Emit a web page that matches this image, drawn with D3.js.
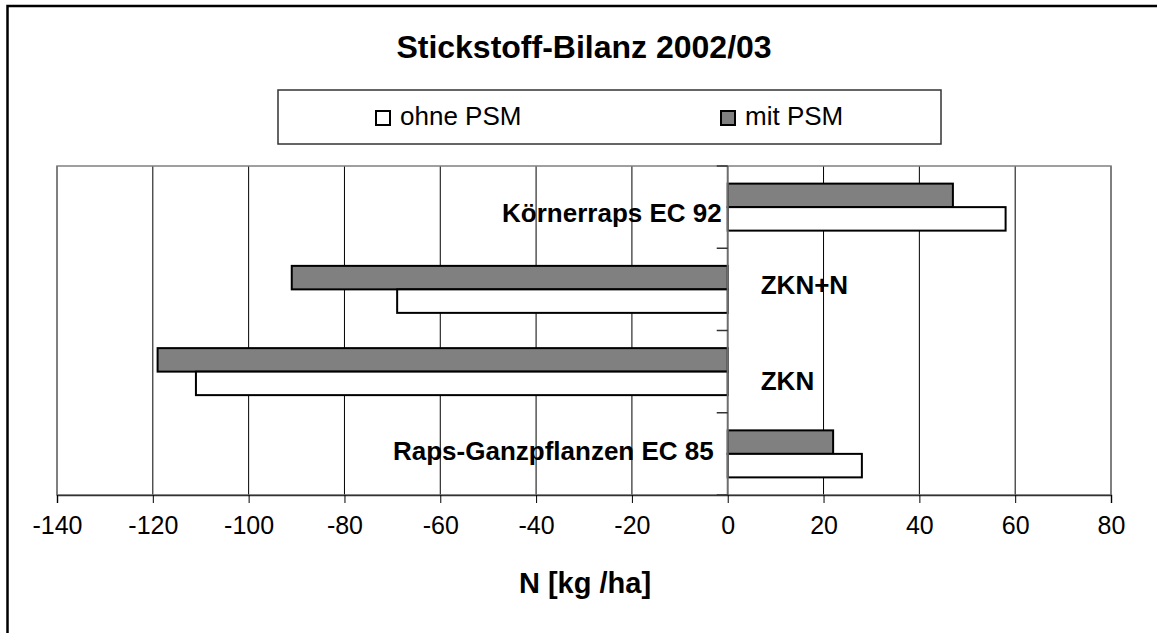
<!DOCTYPE html>
<html>
<head>
<meta charset="utf-8">
<script src="https://cdn.jsdelivr.net/npm/d3@7"></script>
<style>
  body { margin: 0; background: #fff; }
  svg { display: block; font-family: "Liberation Sans", Arial, sans-serif; }
</style>
</head>
<body>
<svg id="chart" width="1157" height="633"></svg>
<script>
// data (top to bottom as drawn)
var categories = ["Körnerraps EC 92", "ZKN+N", "ZKN", "Raps-Ganzpflanzen EC 85"];
var seriesNames = ["ohne PSM", "mit PSM"];
var ohnePSM = [58, -69, -111, 28];
var mitPSM = [47, -91, -119, 22];
var xTicks = [-140, -120, -100, -80, -60, -40, -20, 0, 20, 40, 60, 80];

var colours = { "ohne PSM": "#ffffff", "mit PSM": "#808080" };

// layout
var plot = { left: 57, right: 1111, top: 166, bottom: 495 };
// hand placed category labels (relative to zero line / band centre)
var labelPos = [
  { anchor: "end", dx: -6, dy: 15 },
  { anchor: "start", dx: 33, dy: 5 },
  { anchor: "start", dx: 33, dy: 18 },
  { anchor: "end", dx: -14, dy: 6 }
];

var svg = d3.select("#chart");

// outer frame of the chart area
svg.append("rect")
  .attr("x", 7.5).attr("y", 6)
  .attr("width", 1300).attr("height", 800)
  .attr("fill", "#fff")
  .attr("stroke", "#000")
  .attr("stroke-width", 2.5);

var x = d3.scaleLinear()
  .domain([xTicks[0], xTicks[xTicks.length - 1]])
  .range([plot.left, plot.right]);

var y = d3.scaleBand()
  .domain(categories)
  .range([plot.top, plot.bottom]);

// bars inside a category: gray on top, white below
var ySub = d3.scaleBand()
  .domain(["mit PSM", "ohne PSM"])
  .range([0, y.bandwidth()])
  .paddingOuter(0.75);

var rows = categories.map(function (c, i) {
  return { cat: c, i: i, values: { "ohne PSM": ohnePSM[i], "mit PSM": mitPSM[i] } };
});

// gridlines
svg.append("g")
  .selectAll("line")
  .data(xTicks.filter(function (d) { return d !== 0; }))
  .enter().append("line")
  .attr("x1", function (d) { return x(d); })
  .attr("x2", function (d) { return x(d); })
  .attr("y1", plot.top)
  .attr("y2", plot.bottom)
  .attr("stroke", "#000")
  .attr("stroke-width", 1);

// plot border
svg.append("rect")
  .attr("x", plot.left).attr("y", plot.top)
  .attr("width", plot.right - plot.left)
  .attr("height", plot.bottom - plot.top)
  .attr("fill", "none")
  .attr("stroke", "#808080")
  .attr("stroke-width", 1.5);

// bars
var g = svg.selectAll(".cat")
  .data(rows)
  .enter().append("g")
  .attr("class", "cat")
  .attr("transform", function (d) { return "translate(0," + y(d.cat) + ")"; });

g.selectAll("rect")
  .data(function (d) {
    return ["mit PSM", "ohne PSM"].map(function (s) { return { s: s, v: d.values[s] }; });
  })
  .enter().append("rect")
  .attr("x", function (d) { return x(Math.min(0, d.v)); })
  .attr("width", function (d) { return Math.abs(x(d.v) - x(0)); })
  .attr("y", function (d) { return ySub(d.s); })
  .attr("height", ySub.bandwidth())
  .attr("fill", function (d) { return colours[d.s]; })
  .attr("stroke", "#000")
  .attr("stroke-width", 2);

// vertical (category) axis at zero
svg.append("line")
  .attr("x1", x(0)).attr("x2", x(0))
  .attr("y1", plot.top).attr("y2", plot.bottom)
  .attr("stroke", "#6e6e6e")
  .attr("stroke-width", 2);

svg.append("g")
  .selectAll("line")
  .data(d3.range(categories.length + 1))
  .enter().append("line")
  .attr("x1", x(0) - 11).attr("x2", x(0))
  .attr("y1", function (i) { return plot.top + i * y.step(); })
  .attr("y2", function (i) { return plot.top + i * y.step(); })
  .attr("stroke", "#333")
  .attr("stroke-width", 1.5);

// x axis (plain hyphen for negatives, like the original)
var xAxis = d3.axisBottom(x)
  .tickValues(xTicks)
  .tickSize(8)
  .tickPadding(13)
  .tickFormat(function (d) { return String(d); });

var ax = svg.append("g")
  .attr("transform", "translate(0," + plot.bottom + ")")
  .call(xAxis);

ax.select(".domain").attr("stroke", "#333").attr("stroke-width", 1.5);
ax.selectAll(".tick line").attr("stroke", "#000").attr("stroke-width", 1);
ax.selectAll(".tick text")
  .attr("fill", "#000")
  .style("font-size", "25px")
  .style("font-family", "'Liberation Sans', Arial, sans-serif");

// category labels
g.append("text")
  .attr("x", function (d) { return x(0) + labelPos[d.i].dx; })
  .attr("y", function (d) { return y.bandwidth() / 2 + labelPos[d.i].dy; })
  .attr("text-anchor", function (d) { return labelPos[d.i].anchor; })
  .style("font-size", "26px")
  .style("font-weight", "bold")
  .text(function (d) { return d.cat; });

// title
svg.append("text")
  .attr("x", (plot.left + plot.right) / 2)
  .attr("y", 58)
  .attr("text-anchor", "middle")
  .style("font-size", "32px")
  .style("font-weight", "bold")
  .text("Stickstoff-Bilanz 2002/03");

// x axis title
svg.append("text")
  .attr("x", 585)
  .attr("y", 593)
  .attr("text-anchor", "middle")
  .style("font-size", "29px")
  .style("font-weight", "bold")
  .text("N [kg /ha]");

// legend
var legend = svg.append("g");
legend.append("rect")
  .attr("x", 278).attr("y", 90)
  .attr("width", 663).attr("height", 54)
  .attr("fill", "#fff")
  .attr("stroke", "#333")
  .attr("stroke-width", 1.5);

var legendX = [376, 721];
var item = legend.selectAll(".item")
  .data(seriesNames)
  .enter().append("g")
  .attr("class", "item")
  .attr("transform", function (d, i) { return "translate(" + legendX[i] + ",111)"; });

item.append("rect")
  .attr("width", 14).attr("height", 14)
  .attr("fill", function (d) { return colours[d]; })
  .attr("stroke", "#000")
  .attr("stroke-width", 2);

item.append("text")
  .attr("x", 24)
  .attr("y", 13.5)
  .style("font-size", "26px")
  .text(function (d) { return d; });
</script>
</body>
</html>
